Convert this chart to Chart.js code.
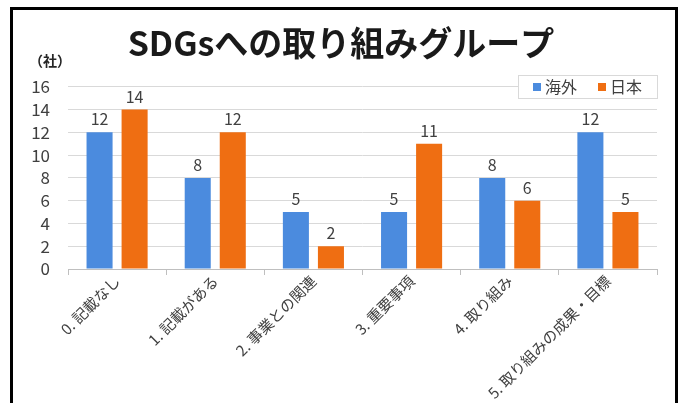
<!DOCTYPE html>
<html>
<head>
<meta charset="utf-8">
<script src="https://cdn.jsdelivr.net/npm/chart.js@4/dist/chart.umd.min.js"></script>
<style>
html,body{margin:0;padding:0;background:#fff;overflow:hidden;}
#wrap{position:relative;width:682px;height:403px;}
#frame{position:absolute;left:10px;top:7px;width:662px;height:420px;border:3px solid #000;pointer-events:none;}
canvas{position:absolute;left:0;top:0;}
</style>
</head>
<body>
<div id="wrap">
<canvas id="c" width="682" height="403"></canvas>
<div id="frame"></div>
</div>
<script>
const categories = ['0. 記載なし','1. 記載がある','2. 事業との関連','3. 重要事項','4. 取り組み','5. 取り組みの成果・目標'];
const overseas = [12, 8, 5, 5, 8, 12];
const japan = [14, 12, 2, 11, 6, 5];
const seriesNames = ['海外','日本'];
const yTicks = [0,2,4,6,8,10,12,14,16];
const titleText = 'SDGsへの取り組みグループ';
const unitText = '（社）';

const FONT = "'Noto Sans CJK JP','Noto Sans',sans-serif";
const TEXT = '#404040';

const valueLabels = {
  id: 'valueLabels',
  afterDatasetsDraw(chart) {
    const ctx = chart.ctx;
    ctx.save();
    ctx.font = '16px ' + FONT;
    ctx.fillStyle = TEXT;
    ctx.textAlign = 'center';
    ctx.textBaseline = 'bottom';
    chart.data.datasets.forEach((ds, i) => {
      const meta = chart.getDatasetMeta(i);
      meta.data.forEach((el, j) => {
        ctx.fillText(String(ds.data[j]), el.x, el.y - 5);
      });
    });
    ctx.restore();
  }
};

const extras = {
  id: 'extras',
  afterDraw(chart) {
    const ctx = chart.ctx;
    ctx.save();
    ctx.font = 'bold 14px ' + FONT;
    ctx.fillStyle = '#262626';
    ctx.textAlign = 'center';
    ctx.textBaseline = 'middle';
    ctx.fillText(unitText, 50, 61);
    const bx = 518, by = 75, bw = 139, bh = 23;
    ctx.fillStyle = '#fff';
    ctx.fillRect(bx, by, bw, bh);
    ctx.strokeStyle = '#d9d9d9';
    ctx.lineWidth = 1;
    ctx.strokeRect(bx + 0.5, by + 0.5, bw, bh);
    ctx.font = '16px ' + FONT;
    ctx.textAlign = 'left';
    const xs = [533, 598];
    chart.data.datasets.forEach((ds, i) => {
      ctx.fillStyle = ds.backgroundColor;
      ctx.fillRect(xs[i], 83, 8, 8);
      ctx.fillStyle = TEXT;
      ctx.fillText(ds.label, xs[i] + 12, 87);
    });
    ctx.restore();
  }
};

new Chart(document.getElementById('c'), {
  type: 'bar',
  data: {
    labels: categories,
    datasets: [
      { label: seriesNames[0], data: overseas, backgroundColor: '#4B8BDE', categoryPercentage: 0.714, barPercentage: 0.743 },
      { label: seriesNames[1], data: japan, backgroundColor: '#EF6E12', categoryPercentage: 0.714, barPercentage: 0.743 }
    ]
  },
  options: {
    responsive: false,
    animation: false,
    layout: { padding: { left: 25, right: 25, top: 0, bottom: 0 } },
    plugins: {
      legend: { display: false },
      tooltip: { enabled: false },
      title: {
        display: true,
        text: titleText,
        color: '#1a1a1a',
        font: { family: FONT, size: 34, weight: 'bold', lineHeight: 1.2 },
        padding: { top: 23, bottom: 23 }
      }
    },
    scales: {
      x: {
        grid: { display: true, drawOnChartArea: false, drawTicks: true, tickLength: 6, color: '#bfbfbf', offset: true },
        border: { color: '#bfbfbf', width: 1 },
        ticks: { color: TEXT, font: { family: FONT, size: 15 }, minRotation: 45, maxRotation: 45, padding: -3, autoSkip: false },
        afterFit(s) { s.height = 134; }
      },
      y: {
        min: 0, max: 16,
        afterBuildTicks(s) { s.ticks = yTicks.map(v => ({ value: v })); },
        grid: { color: '#d9d9d9', drawTicks: false },
        border: { display: false },
        ticks: { color: TEXT, font: { family: FONT, size: 17 }, padding: 18, autoSkip: false },
        afterFit(s) { s.width = 43; }
      }
    }
  },
  plugins: [valueLabels, extras]
});
</script>
</body>
</html>
